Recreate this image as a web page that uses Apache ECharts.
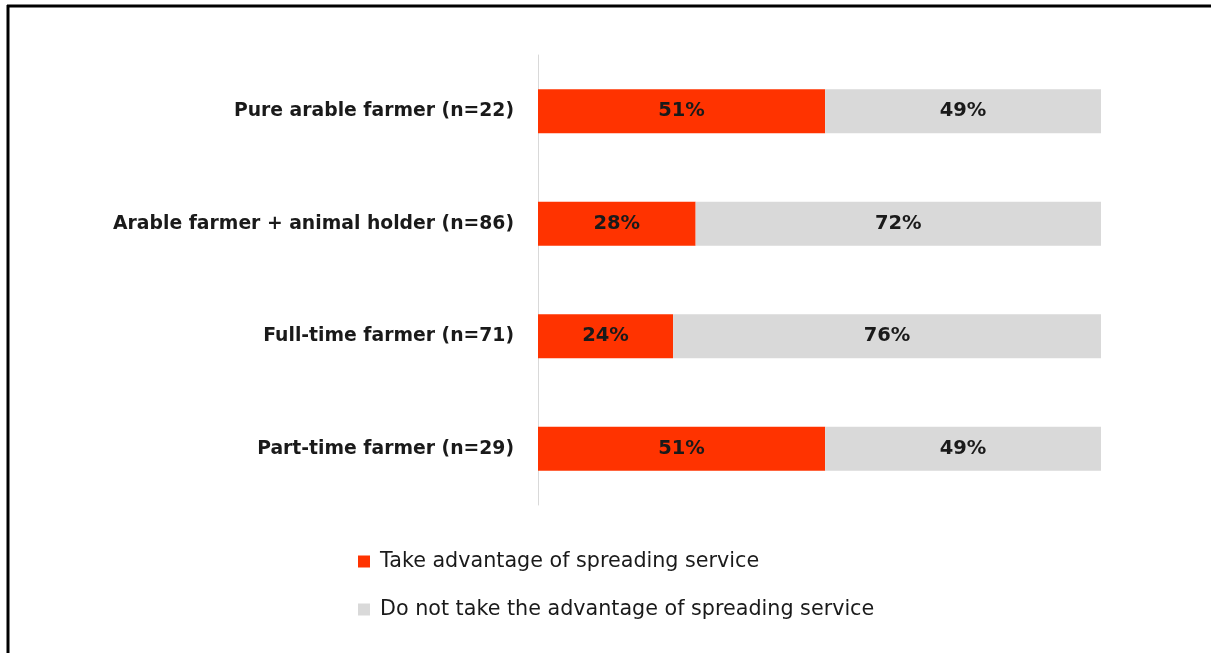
<!DOCTYPE html>
<html>
<head>
<meta charset="utf-8">
<script src="https://cdn.jsdelivr.net/npm/echarts@6/dist/echarts.min.js"></script>
<style>
  html, body { margin: 0; padding: 0; background: #fff; }
  #chart { width: 1211px; height: 653px; }
</style>
</head>
<body>
<div id="chart"></div>
<script>
// Farm types (top to bottom)
const categories = [
  'Pure arable farmer (n=22)',
  'Arable farmer + animal holder (n=86)',
  'Full-time farmer (n=71)',
  'Part-time farmer (n=29)'
];
// Share of farmers using the spreading service, in percent
const takeAdvantage = [51, 28, 24, 51];
const notTakeAdvantage = [49, 72, 76, 49];
const seriesNames = [
  'Take advantage of spreading service',
  'Do not take the advantage of spreading service'
];

const FONT = 'DejaVu Sans';

const chart = echarts.init(document.getElementById('chart'));
const barLabel = {
  show: true,
  position: 'inside',
  formatter: p => p.value + '%',
  color: '#1a1a1a',
  fontFamily: FONT,
  fontWeight: 'bold',
  fontSize: 19.5
};

chart.setOption({
  animation: false,
  backgroundColor: '#fff',
  grid: { left: 538, right: 110, top: 55, bottom: 148, containLabel: false },
  legend: {
    orient: 'vertical',
    left: 353,
    top: 546,
    itemWidth: 12,
    itemHeight: 12,
    itemGap: 27,
    icon: 'rect',
    textStyle: { fontFamily: FONT, fontSize: 20.7, color: '#1a1a1a', padding: [0, 0, 0, 5] },
    data: seriesNames
  },
  xAxis: {
    type: 'value',
    min: 0,
    max: 100,
    show: false
  },
  yAxis: {
    type: 'category',
    inverse: true,
    data: categories,
    axisTick: { show: false },
    axisLine: { show: true, lineStyle: { color: '#d9d9d9', width: 1 } },
    axisLabel: {
      margin: 24,
      color: '#1a1a1a',
      fontFamily: FONT,
      fontWeight: 'bold',
      fontSize: 18.8
    }
  },
  series: [
    {
      name: seriesNames[0],
      type: 'bar',
      stack: 'total',
      data: takeAdvantage,
      barWidth: 44,
      itemStyle: { color: '#ff3300' },
      label: barLabel
    },
    {
      name: seriesNames[1],
      type: 'bar',
      stack: 'total',
      data: notTakeAdvantage,
      barWidth: 44,
      itemStyle: { color: '#d9d9d9' },
      label: barLabel
    }
  ],
  graphic: [
    { type: 'line', shape: { x1: 7, y1: 6, x2: 1211, y2: 6 }, style: { stroke: '#000', lineWidth: 3 } },
    { type: 'line', shape: { x1: 8, y1: 5, x2: 8, y2: 653 }, style: { stroke: '#000', lineWidth: 3 } }
  ]
});
</script>
</body>
</html>
